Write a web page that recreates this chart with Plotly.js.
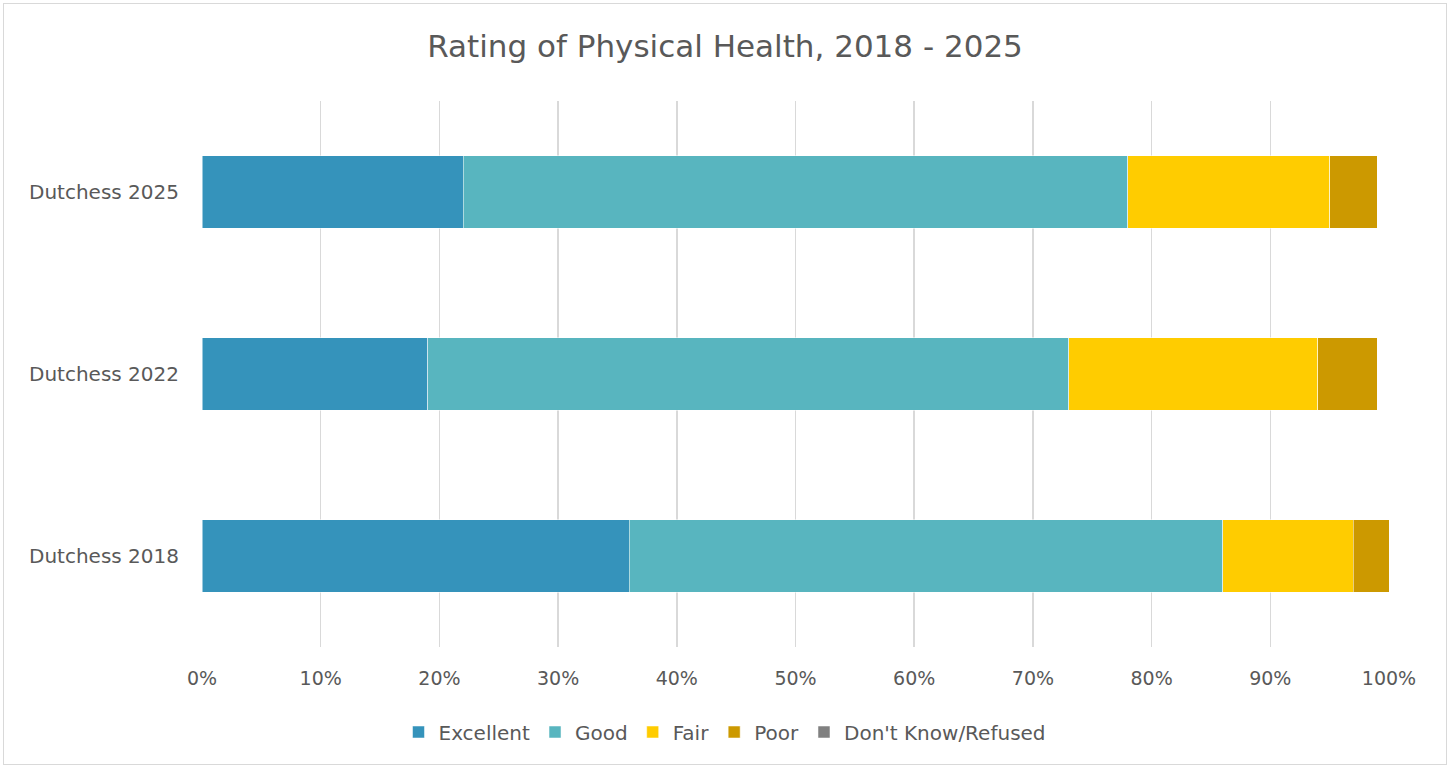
<!DOCTYPE html>
<html>
<head>
<meta charset="utf-8">
<script src="https://cdn.plot.ly/plotly-3.0.1.min.js"></script>
<style>
html,body{margin:0;padding:0;background:#fff;}
#wrap{position:relative;width:1450px;height:767px;}
#chart{width:1450px;height:767px;}
#frame{position:absolute;left:3px;top:3px;width:1442px;height:760px;border:1px solid #d9d9d9;pointer-events:none;}
</style>
</head>
<body>
<div id="wrap"><div id="chart"></div><div id="frame"></div></div>
<script>
const categories = ["Dutchess 2018", "Dutchess 2022", "Dutchess 2025"];
const seriesNames = ["Excellent", "Good", "Fair", "Poor", "Don't Know/Refused"];
const excellent = [36, 19, 22];
const good = [50, 54, 56];
const fair = [11, 21, 17];
const poor = [3, 5, 4];
const dontKnow = [0, 0, 0];
const colors = ["#3593BB", "#58B5BF", "#FFCC00", "#CC9900", "#808080"];
const values = [excellent, good, fair, poor, dontKnow];

const traces = values.map((v, i) => ({
  type: "bar",
  orientation: "h",
  name: seriesNames[i],
  y: categories,
  x: v,
  width: 0.4,
  marker: {color: colors[i], line: {color: "rgba(255,255,255,0.5)", width: 1}},
  hoverinfo: "none"
}));

const font = "'DejaVu Sans', sans-serif";
const layout = {
  width: 1450, height: 767,
  barmode: "stack",
  paper_bgcolor: "#fff", plot_bgcolor: "#fff",
  margin: {l: 202, r: 61, t: 101, b: 120},
  title: {text: "Rating of Physical Health, 2018 - 2025", x: 0.5, xref: "container", y: 1 - 46/767, yref: "container", yanchor: "middle",
    font: {family: font, size: 31, color: "#595959"}},
  xaxis: {range: [0, 100], tickvals: [0,10,20,30,40,50,60,70,80,90,100], ticktext: ["0%","10%","20%","30%","40%","50%","60%","70%","80%","90%","100%"],
    showgrid: true, gridcolor: "#d9d9d9", gridwidth: 1.5, zeroline: false, showline: false,
    tickfont: {family: font, size: 19, color: "#595959"}, ticks: "", ticklabelstandoff: 18, fixedrange: true},
  yaxis: {range: [-0.5, 2.5], showgrid: false, zeroline: false, showline: false, ticks: "",
    tickfont: {family: font, size: 20, color: "#595959"}, ticklabelstandoff: 22, fixedrange: true},
  legend: {orientation: "h", x: 0.5, xref: "container", xanchor: "center", y: 1 - 732/767, yref: "container", yanchor: "middle",
    font: {family: font, size: 20, color: "#595959"}, traceorder: "normal", itemwidth: 30, itemclick: false},
  showlegend: true
};
Plotly.newPlot("chart", traces, layout, {displayModeBar: false, staticPlot: true});
</script>
</body>
</html>
